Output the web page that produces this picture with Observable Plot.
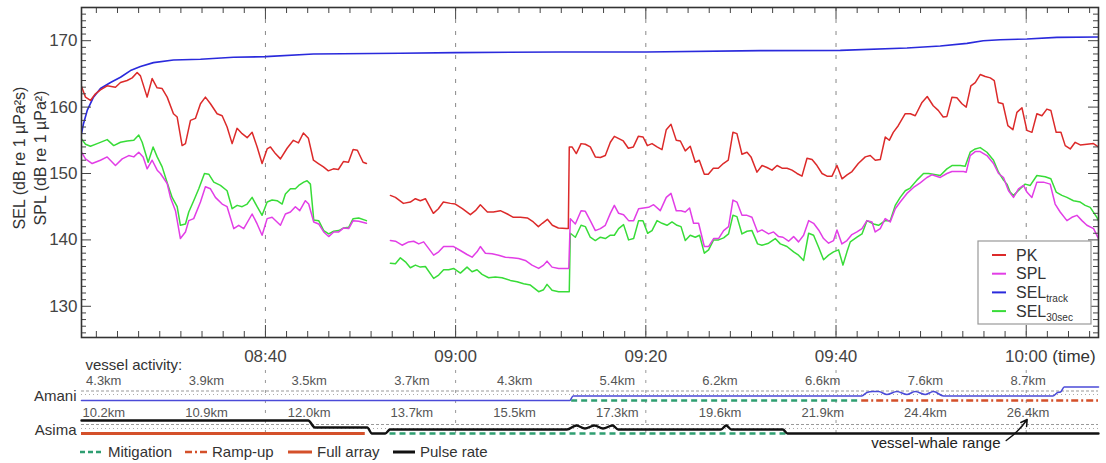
<!DOCTYPE html>
<html><head><meta charset="utf-8">
<script src="https://cdn.jsdelivr.net/npm/d3@7"></script>
<script src="https://cdn.jsdelivr.net/npm/@observablehq/plot@0.6"></script>
<style>
body{margin:0;background:#fff;}
#chart svg{display:block;}
</style></head><body><div id="chart"></div>
<script>
// ---------- DATA (time = minutes after 08:00) ----------
const pk = [[20.66,163.1],[21.08,161.5],[21.6,161.0],[22.13,162.0],[22.65,162.6],[23.36,163.2],[24.23,163.0],[24.76,163.7],[25.46,164.0],[25.99,164.4],[26.51,165.2],[26.86,164.7],[27.56,161.5],[28.09,164.3],[28.61,162.9],[29.14,162.8],[29.67,161.5],[30.33,159.0],[30.72,158.5],[31.24,154.2],[31.59,154.5],[32.12,158.0],[32.64,158.3],[33.17,160.5],[33.69,161.5],[34.22,160.5],[34.92,159.0],[35.45,158.7],[35.97,157.0],[36.5,154.5],[37.02,156.8],[37.55,156.0],[38.08,155.4],[38.6,156.2],[39.13,154.0],[39.65,151.5],[40.18,153.7],[40.53,154.0],[41.05,153.0],[41.58,152.2],[42.28,153.8],[42.94,155.0],[43.47,154.6],[43.99,156.1],[44.52,155.3],[45.05,152.0],[45.57,151.5],[46.1,151.0],[46.62,150.4],[47.15,150.7],[47.67,150.6],[48.2,151.8],[48.73,151.7],[49.22,153.6],[49.67,153.5],[50.27,151.7],[50.62,151.5],
[51.9,null],
[53.14,146.7],[53.67,146.4],[54.51,145.5],[55.24,145.7],[55.77,146.2],[56.29,145.9],[56.82,146.2],[57.66,144.0],[58.19,144.7],[58.71,145.7],[59.45,145.5],[59.97,145.4],[60.71,144.7],[61.55,143.8],[62.08,144.4],[62.6,145.3],[63.34,144.2],[63.97,144.2],[64.7,144.4],[65.44,143.9],[66.07,143.4],[66.81,143.4],[67.54,143.3],[68.17,142.7],[68.7,142.0],[69.12,142.5],[69.65,143.1],[70.17,142.2],[70.8,141.8],[71.64,141.7],[71.85,141.7],[71.95,154.0],[72.24,154.0],[72.69,153.0],[73.19,154.5],[73.64,154.4],[74.16,154.0],[74.69,152.5],[75.22,152.4],[75.74,152.7],[76.27,154.7],[76.69,155.6],[77.11,155.3],[77.63,154.9],[78.16,153.8],[78.69,154.0],[79.21,155.6],[79.71,155.5],[80.16,154.2],[80.65,154.5],[81.18,154.0],[81.7,153.6],[82.15,156.6],[82.65,157.4],[83.2,155.0],[83.63,154.9],[84.15,153.4],[84.67,154.1],[85.2,151.7],[85.62,152.0],[86.15,149.9],[86.57,149.9],[87.1,150.8],[87.62,150.8],[88.15,151.5],[88.67,152.0],[89.16,156.2],[89.58,156.0],[90.11,152.9],[90.64,153.2],[91.06,152.5],[91.69,150.2],[92.22,151.2],[92.74,150.9],[93.27,150.5],[93.8,151.2],[94.32,150.8],[94.85,150.8],[95.37,150.5],[95.9,150.0],[96.42,149.6],[96.95,152.3],[97.48,152.1],[98.0,151.2],[98.53,150.0],[99.05,149.6],[99.58,149.6],[100.1,151.2],[100.63,149.2],[101.16,149.8],[101.68,150.3],[102.34,151.5],[103.08,152.5],[103.6,152.7],[104.13,152.0],[104.65,152.1],[105.18,155.5],[105.6,155.0],[106.02,156.2],[106.54,157.2],[107.28,159.0],[107.81,159.0],[108.33,158.7],[109.04,160.7],[109.59,161.6],[110.22,160.2],[110.75,159.5],[111.27,158.5],[111.66,158.6],[112.19,161.5],[112.71,161.4],[113.24,160.5],[113.69,160.0],[114.18,163.2],[114.64,163.7],[115.16,164.9],[115.69,164.6],[116.22,164.4],[116.64,164.0],[117.06,160.7],[117.55,160.5],[118.07,157.2],[118.6,156.6],[119.02,159.2],[119.55,159.9],[120.07,156.5],[120.6,156.2],[121.12,159.0],[121.65,158.7],[122.17,159.7],[122.59,159.5],[123.15,156.2],[123.65,156.2],[124.1,154.2],[124.63,153.7],[125.15,154.7],[125.68,154.3],[126.38,154.4],[127.07,154.5],[127.6,154.0]];

const spl = [[20.66,153.2],[21.08,152.2],[21.78,151.5],[22.65,152.0],[23.36,152.5],[24.23,151.2],[24.94,152.2],[25.63,152.7],[26.16,152.5],[26.68,153.2],[27.14,152.5],[27.56,150.7],[28.09,152.0],[28.62,150.5],[28.96,150.0],[29.67,148.5],[30.01,146.4],[30.54,144.4],[31.06,140.2],[31.59,141.2],[31.94,142.9],[32.46,143.2],[33.17,145.7],[33.69,148.0],[34.22,147.7],[34.74,146.4],[35.45,145.4],[35.97,145.0],[36.67,141.7],[37.19,142.2],[37.72,141.7],[38.6,143.9],[39.13,142.4],[39.65,140.7],[40.18,143.2],[40.7,143.4],[41.58,142.2],[42.1,143.9],[42.63,144.2],[43.15,145.0],[43.61,144.4],[44.2,145.9],[44.55,145.4],[45.08,142.7],[45.6,142.4],[46.13,141.2],[46.65,140.5],[47.18,141.2],[47.71,141.2],[48.23,141.8],[48.76,141.7],[49.22,142.9],[49.81,142.8],[50.62,142.5],
[51.9,null],
[53.14,139.9],[53.67,139.8],[54.37,139.2],[55.06,139.7],[55.59,139.8],[56.12,139.4],[56.64,139.7],[57.69,137.7],[58.22,138.2],[58.74,139.0],[59.27,139.0],[59.79,139.0],[60.5,138.4],[61.2,137.8],[61.73,137.4],[62.25,138.2],[62.6,139.0],[63.13,138.0],[63.83,137.9],[64.52,137.7],[65.23,137.4],[65.93,137.3],[66.63,137.2],[67.33,136.9],[68.03,136.2],[68.73,135.7],[69.25,136.2],[69.61,136.8],[70.14,135.9],[70.83,135.7],[71.64,135.7],[71.9,135.7],[72.06,143.2],[72.59,142.4],[73.19,144.4],[73.64,144.3],[74.16,142.9],[74.69,141.4],[75.22,141.7],[75.74,142.2],[76.27,144.0],[76.69,145.2],[77.14,144.0],[77.66,143.8],[78.19,142.9],[78.72,142.9],[79.24,144.7],[79.77,144.8],[80.29,144.9],[80.82,145.3],[81.52,144.4],[82.15,146.4],[82.65,147.0],[83.2,144.4],[83.7,144.4],[84.15,144.2],[84.6,144.8],[85.02,142.5],[85.55,142.5],[86.15,139.0],[86.6,139.0],[87.13,140.2],[87.65,140.2],[88.18,141.4],[88.7,142.0],[89.16,146.0],[89.58,145.7],[90.11,143.7],[90.64,143.7],[91.16,143.4],[91.75,141.2],[92.21,141.5],[92.91,140.9],[93.43,141.2],[93.96,140.5],[94.42,140.4],[95.01,139.8],[95.54,140.5],[96.06,139.7],[96.59,140.7],[97.12,142.9],[97.64,142.5],[98.17,141.5],[98.69,140.2],[99.22,139.5],[99.74,139.9],[100.1,141.5],[100.62,139.4],[101.15,139.9],[101.67,140.8],[102.2,141.2],[102.73,141.7],[103.25,142.9],[103.78,142.7],[104.12,141.2],[104.65,141.7],[105.17,143.2],[105.7,142.7],[106.23,144.7],[106.75,145.7],[107.46,147.0],[108.15,147.9],[108.85,148.6],[109.56,149.4],[110.08,149.8],[110.96,149.4],[111.66,150.0],[112.19,150.3],[113.4,150.3],[113.69,150.2],[114.11,152.7],[114.64,153.3],[115.16,153.3],[115.87,152.7],[116.56,151.5],[117.09,150.0],[117.61,149.4],[118.14,147.4],[118.66,146.4],[119.19,147.7],[119.71,148.2],[120.07,147.2],[120.59,146.4],[121.12,148.7],[121.81,148.7],[122.52,148.4],[123.04,145.4],[123.57,144.2],[124.28,142.9],[124.8,143.4],[125.33,143.7],[125.86,142.9],[126.38,142.2],[127.08,141.7],[127.6,140.2]];

const sel30 = [[20.66,155.2],[21.08,154.4],[21.6,154.1],[22.31,154.5],[23.36,155.1],[24.05,154.2],[24.76,154.7],[25.46,154.9],[26.16,155.0],[26.68,155.8],[27.04,154.7],[27.67,151.7],[28.19,154.0],[28.62,152.5],[29.14,151.0],[29.67,148.6],[30.19,146.4],[30.72,145.0],[31.06,142.2],[31.59,142.4],[31.94,144.2],[32.46,145.9],[32.99,147.7],[33.59,150.0],[34.04,149.9],[34.57,148.7],[35.27,148.2],[35.97,147.4],[36.5,144.7],[37.03,145.2],[37.55,145.0],[38.08,145.4],[38.6,146.4],[39.13,145.0],[39.65,143.7],[40.18,145.7],[40.7,146.0],[41.23,145.9],[41.76,145.4],[42.1,146.9],[42.63,147.7],[43.15,147.7],[43.5,148.2],[44.03,148.7],[44.38,148.9],[44.73,148.4],[45.08,143.0],[45.6,142.9],[46.13,141.4],[46.65,140.9],[47.18,141.3],[47.71,141.4],[48.23,141.8],[48.76,141.9],[49.22,143.2],[49.81,143.3],[50.62,142.9],
[51.9,null],
[53.14,136.5],[53.67,136.4],[54.19,137.3],[54.72,136.7],[55.24,135.8],[55.77,136.2],[56.29,135.9],[56.82,136.0],[57.69,134.2],[58.22,134.7],[58.74,135.5],[59.27,135.5],[59.79,135.7],[60.5,135.0],[61.2,135.9],[61.73,135.2],[62.25,135.5],[62.78,134.8],[63.47,134.3],[64.18,134.4],[64.88,134.3],[65.75,133.9],[66.46,133.7],[67.15,133.4],[67.86,133.2],[68.73,132.2],[69.25,132.5],[69.61,133.3],[70.14,132.4],[70.83,132.2],[71.64,132.2],[71.95,132.2],[72.06,141.0],[72.59,140.4],[73.19,142.2],[73.64,142.0],[74.16,140.4],[74.69,139.9],[75.22,140.4],[75.74,140.2],[76.27,140.7],[76.69,140.7],[77.14,141.7],[77.66,142.3],[78.19,140.0],[78.72,140.2],[79.24,142.9],[79.7,142.9],[80.19,141.0],[80.65,141.4],[81.18,142.9],[81.7,142.5],[82.23,142.2],[82.75,142.7],[83.28,142.2],[83.7,142.0],[84.15,139.9],[84.67,140.7],[85.2,140.4],[85.65,140.7],[86.15,138.0],[86.6,138.5],[87.13,140.0],[87.65,140.0],[88.18,140.3],[88.7,140.9],[89.16,143.7],[89.58,143.5],[90.11,140.9],[90.64,141.3],[91.16,141.4],[91.75,139.4],[92.21,139.2],[92.91,139.5],[93.61,140.2],[94.14,139.4],[94.84,139.0],[95.54,138.2],[96.06,137.7],[96.59,136.9],[97.12,141.0],[97.64,140.7],[98.17,138.9],[98.69,137.0],[99.22,137.7],[99.74,138.2],[100.27,138.5],[100.73,136.2],[101.15,138.2],[101.5,139.7],[102.2,140.4],[102.73,140.9],[103.25,142.9],[103.95,142.4],[104.47,142.2],[105.17,142.9],[105.7,142.9],[106.23,145.2],[106.75,146.4],[107.28,147.4],[107.8,147.8],[108.51,149.0],[109.2,150.0],[109.73,150.0],[110.96,149.7],[111.66,150.7],[112.19,151.2],[113.06,151.2],[113.58,151.1],[114.11,153.2],[114.64,153.7],[115.16,153.9],[115.87,153.2],[116.56,152.0],[117.09,150.2],[117.61,149.0],[117.97,148.4],[118.31,147.2],[118.66,146.7],[119.37,147.7],[119.89,148.4],[120.42,148.2],[121.12,149.7],[121.99,149.5],[122.59,149.2],[123.15,147.2],[123.75,146.7],[124.28,146.4],[124.97,145.9],[125.68,145.7],[126.2,145.2],[126.73,144.9],[127.43,143.4],[127.6,142.9]];

const selTrack = [[20.66,156.0],[20.87,157.5],[21.26,159.5],[21.92,161.5],[22.65,162.8],[23.71,163.7],[24.76,164.5],[25.81,165.5],[26.86,166.1],[28.23,166.7],[30.33,167.1],[33.17,167.2],[36.64,167.5],[40.0,167.6],[45.05,168.0],[54.19,168.1],[59.97,168.2],[71.01,168.3],[80.05,168.3],[92.04,168.5],[100.45,168.55],[107.46,168.9],[110.96,169.2],[113.77,169.6],[115.48,170.0],[117.27,170.15],[120.07,170.25],[123.23,170.5],[127.6,170.55]];

const timeTicks = [40, 60, 80, 100, 120];
const timeLabels = ["08:40", "09:00", "09:20", "09:40", "10:00"];
const yTicks = [130, 140, 150, 160, 170];
const seriesNames = ["PK", "SPL", "SEL", "SEL"];
const seriesSubs = ["", "", "track", "30sec"];

// vessel activity
const rangeTimes = [23, 33.8, 44.6, 55.4, 66.2, 77, 87.8, 98.6, 109.4, 120.2];
const amaniRange = ["4.3km","3.9km","3.5km","3.7km","4.3km","5.4km","6.2km","6.6km","7.6km","8.7km"];
const asimaRange = ["10.2km","10.9km","12.0km","13.7km","15.5km","17.3km","19.6km","21.9km","24.4km","26.4km"];
// pulse-rate level (relative units) through time
const amaniPulse = [[20.66,0],[72.0,0],[72.35,4.5],[102.7,4.5],[103.25,8],[103.85,9],[104.47,9],[105.35,6],[106.4,9],[107.46,6],[108.33,9],[109.38,6],[110.25,9],[111.3,4.5],[122.8,4.5],[123.3,8],[123.6,8.5],[124.0,13.5],[127.6,13.5]];
const asimaPulse = [[20.66,13],[44.5,13],[45.2,6],[50.7,6],[51.2,0],[52.6,0],[53.1,4],[71.7,4],[72.7,8],[73.6,5],[74.6,8],[75.5,5],[76.5,8],[77.1,4],[87.9,4],[88.45,8],[89.0,4],[94.4,4],[94.9,0],[127.6,0]];
const amaniMitigation = [72.2, 102.7];
const amaniRampUp = [102.7, 127.6];
const asimaFullArray = [20.66, 50.5];
const asimaMitigation = [53.1, 94.9];
const activityLegend = ["Mitigation", "Ramp-up", "Full array", "Pulse rate"];

// ---------- LAYOUT ----------
const FONT = "'Liberation Sans', Arial, Helvetica, sans-serif";
const W = 1106, ML = 81, MR = 8, MT = 7;
const H1 = 340, MB1 = 3, H2 = 123;
const xDomain = [20.66, 127.6];
const innerW = W - ML - MR, innerH = H1 - MT - MB1;
const tk = "#444";
const cPK = "#dc2a2a", cSPL = "#e23ee6", cTrack = "#2a2adc", c30 = "#38dc38";
const cMit = "#2f9e72", cOr = "#d4502a";

const minorX = d3.range(-8, 40).map(k => 40 + k * 20 / 9)
  .filter(t => t >= xDomain[0] && t <= xDomain[1] && !timeTicks.some(m => Math.abs(m - t) < 1e-6));
const minorY = d3.range(126, 176).filter(v => v % 10 !== 0);
const P = (d) => d[0], V = (d) => d[1];

const main = Plot.plot({
  width: W, height: H1, marginLeft: ML, marginRight: MR, marginTop: MT, marginBottom: MB1,
  style: {fontFamily: FONT, background: "white", overflow: "visible"},
  x: {domain: xDomain, axis: null},
  y: {domain: [125.3, 175], axis: null},
  marks: [
    Plot.ruleX(timeTicks, {stroke: "#888", strokeDasharray: "4,8"}),
    Plot.line(selTrack, {x: P, y: V, stroke: cTrack, strokeWidth: 1.6, clip: true}),
    Plot.line(pk, {x: P, y: V, stroke: cPK, strokeWidth: 1.5, clip: true}),
    Plot.line(sel30, {x: P, y: V, stroke: c30, strokeWidth: 1.5, clip: true}),
    Plot.line(spl, {x: P, y: V, stroke: cSPL, strokeWidth: 1.5, clip: true}),
    Plot.ruleX(timeTicks, {stroke: tk, insetTop: innerH - 12}),
    Plot.ruleX(timeTicks, {stroke: tk, insetBottom: innerH - 12}),
    Plot.ruleX(minorX, {stroke: tk, insetTop: innerH - 6}),
    Plot.ruleX(minorX, {stroke: tk, insetBottom: innerH - 6}),
    Plot.ruleY(yTicks, {stroke: tk, insetRight: innerW - 10}),
    Plot.ruleY(yTicks, {stroke: tk, insetLeft: innerW - 10}),
    Plot.ruleY(minorY, {stroke: tk, insetRight: innerW - 5}),
    Plot.ruleY(minorY, {stroke: tk, insetLeft: innerW - 5}),
    Plot.text(yTicks, {y: d => d, frameAnchor: "left", dx: -4, textAnchor: "end", text: d => String(d), fontSize: 17, fill: "#444"}),
    Plot.frame({stroke: "#333", strokeWidth: 1.6})
  ]
});

// y-axis titles
const ms = d3.select(main);
[["SEL (dB re 1 µPa²s)", 19], ["SPL (dB re 1 µPa²)", 40]].forEach(([t, cx]) => {
  ms.append("text").attr("transform", `translate(${cx},158) rotate(-90)`)
    .attr("text-anchor", "middle").attr("dy", "0.35em")
    .attr("font-size", 16).attr("fill", "#333").attr("font-family", FONT).text(t);
});
// legend
const lg = ms.append("g").attr("font-family", FONT).attr("text-anchor", "start");
lg.append("rect").attr("x", 978).attr("y", 241).attr("width", 113).attr("height", 83)
  .attr("fill", "white").attr("stroke", "#999").attr("stroke-width", 1.2);
[cPK, cSPL, cTrack, c30].forEach((c, i) => {
  const yy = 255 + i * 18.7;
  lg.append("line").attr("x1", 992).attr("x2", 1006).attr("y1", yy).attr("y2", yy)
    .attr("stroke", c).attr("stroke-width", 2);
  const t = lg.append("text").attr("x", 1016).attr("y", yy).attr("dy", "0.35em")
    .attr("text-anchor", "start").attr("font-size", 16).attr("fill", "#333");
  t.append("tspan").text(seriesNames[i]);
  if (seriesSubs[i]) t.append("tspan").attr("font-size", 10).attr("dy", 4).text(seriesSubs[i]);
});

// ---------- vessel activity panel ----------
const laneA = 60, laneB = 93;
const lower = Plot.plot({
  width: W, height: H2, marginLeft: ML, marginRight: MR, marginTop: 0, marginBottom: 0,
  style: {fontFamily: FONT, background: "white", overflow: "visible"},
  x: {domain: xDomain, axis: null},
  y: {type: "identity", axis: null},
  marks: [
    Plot.ruleX(timeTicks, {y1: 30, y2: 95, stroke: "#999", strokeDasharray: "3,7"}),
    Plot.text(timeTicks, {x: d => d, y: () => 16, text: (d, i) => timeLabels[i], fontSize: 17, fill: "#444"}),
    Plot.text([120], {x: d => d, y: () => 16, text: () => "(time)", dx: 26, textAnchor: "start", fontSize: 17, fill: "#333"}),
    Plot.text(["vessel activity:"], {frameAnchor: "left", y: () => 25, dx: 4, textAnchor: "start", text: d => d, fontSize: 15, fill: "#333"}),
    Plot.text(["Amani"], {frameAnchor: "left", y: () => laneA - 4, dx: -5, textAnchor: "end", text: d => d, fontSize: 15, fill: "#333"}),
    Plot.text(["Asima"], {frameAnchor: "left", y: () => laneB - 3, dx: -5, textAnchor: "end", text: d => d, fontSize: 15, fill: "#333"}),
    Plot.ruleY([laneA - 9.5, laneB - 9], {y: d => d, stroke: "#999", strokeDasharray: "3,2"}),
    Plot.ruleY([laneA - 6, laneB - 5], {y: d => d, stroke: "#aaa", strokeDasharray: "1,3"}),
    Plot.text(rangeTimes, {x: d => d, y: () => laneA - 20, text: (d, i) => amaniRange[i], fontSize: 13, fill: "#555"}),
    Plot.text(rangeTimes, {x: d => d, y: () => laneB - 21, text: (d, i) => asimaRange[i], fontSize: 13, fill: "#555"}),
    Plot.ruleY([amaniMitigation], {x1: d => d[0], x2: d => d[1], y: () => laneA, stroke: cMit, strokeWidth: 2.5, strokeDasharray: "6,4"}),
    Plot.ruleY([amaniRampUp], {x1: d => d[0], x2: d => d[1], y: () => laneA, stroke: cOr, strokeWidth: 2.5, strokeDasharray: "7,3,2,3"}),
    Plot.ruleY([asimaFullArray], {x1: d => d[0], x2: d => d[1], y: () => laneB, stroke: cOr, strokeWidth: 3}),
    Plot.ruleY([asimaMitigation], {x1: d => d[0], x2: d => d[1], y: () => laneB, stroke: cMit, strokeWidth: 2.5, strokeDasharray: "6,4"}),
    Plot.line(amaniPulse, {x: P, y: d => laneA - d[1], stroke: "#4b4bd8", strokeWidth: 1.6, curve: "monotone-x"}),
    Plot.line(asimaPulse, {x: P, y: d => laneB - d[1], stroke: "#111", strokeWidth: 2.4, curve: "monotone-x"}),
    Plot.text(["vessel-whale range"], {x: () => 110.5, y: () => 103, text: d => d, fontSize: 15, fill: "#222"}),
    Plot.arrow([0], {x1: () => 117.9, y1: () => 100, x2: () => 120.1, y2: () => 79, stroke: "#111", strokeWidth: 1.5, headLength: 7, bend: -10})
  ]
});

// activity legend
const ls = d3.select(lower).append("g").attr("font-family", FONT).attr("text-anchor", "start");
const legY = 112;
const legLayout = [[80, 103, 108, cMit, "5,3", 2.5], [185, 207, 212, cOr, "7,3,2,3", 2.5], [288, 312, 317, cOr, null, 3], [393, 415, 420, "#111", null, 3]];
legLayout.forEach(([a, b, tx, c, dash, w], i) => {
  const l = ls.append("line").attr("x1", a).attr("x2", b).attr("y1", legY).attr("y2", legY)
    .attr("stroke", c).attr("stroke-width", w);
  if (dash) l.attr("stroke-dasharray", dash);
  ls.append("text").attr("x", tx).attr("y", legY).attr("dy", "0.35em").attr("text-anchor", "start")
    .attr("font-size", 15).attr("fill", "#333").text(activityLegend[i]);
});

const root = document.getElementById("chart");
root.append(main);
root.append(lower);
</script>
</body></html>
